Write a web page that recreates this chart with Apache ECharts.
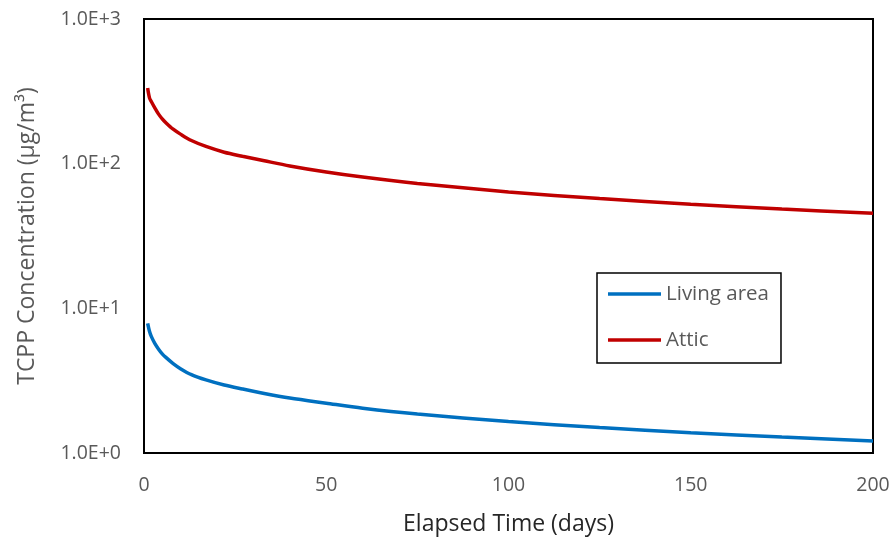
<!DOCTYPE html>
<html>
<head>
<meta charset="utf-8">
<script src="https://cdn.jsdelivr.net/npm/echarts@6/dist/echarts.min.js"></script>
<style>
  html, body { margin: 0; padding: 0; background: #fff; }
  #main { width: 895px; height: 544px; }
</style>
</head>
<body>
<div id="main"></div>
<script>
// elapsed time (days) and concentrations
const days = [1, 1.5, 2, 3, 4, 5, 6, 8, 10, 13, 17, 22, 27, 33, 40, 50, 60, 75, 100, 125, 150, 175, 200]
const livingArea = [7.87, 6.95, 6.4, 5.7, 5.22, 4.85, 4.58, 4.15, 3.83, 3.48, 3.2, 2.95, 2.77, 2.58, 2.4, 2.21, 2.04, 1.86, 1.65, 1.5, 1.38, 1.29, 1.21]
const attic = [333, 285, 269, 242, 220, 204, 192, 173, 160, 144.5, 131.5, 120, 112.5, 104.7, 96.5, 87.6, 80.8, 73, 63.8, 57.4, 52.5, 48.6, 45.4]
const xTicks = [0, 50, 100, 150, 200]
const yTickLabels = ['1.0E+0', '1.0E+1', '1.0E+2', '1.0E+3']

const FONT = 'Open Sans'
const GREY = '#595959'

const pairs = (xs, ys) => xs.map((x, i) => [x, ys[i]])

const chart = echarts.init(document.getElementById('main'), null, { renderer: 'canvas' })

const option = {
  backgroundColor: '#fff',
  animation: false,
  grid: {
    left: 144, right: 22, top: 19, bottom: 91,
    show: true,
    borderColor: '#000',
    borderWidth: 2
  },
  legend: {
    orient: 'vertical',
    left: 597,
    top: 273,
    padding: [10, 12, 12, 11],
    itemGap: 24,
    itemWidth: 53,
    itemHeight: 3.5,
    icon: 'rect',
    borderColor: '#000',
    borderWidth: 1.5,
    textStyle: { fontFamily: FONT, fontSize: 20.5, color: GREY, lineHeight: 22 },
    data: ['Living area', 'Attic']
  },
  xAxis: {
    type: 'value',
    min: xTicks[0],
    max: xTicks[xTicks.length - 1],
    interval: xTicks[1] - xTicks[0],
    name: 'Elapsed Time (days)',
    nameLocation: 'middle',
    nameGap: 60,
    nameTextStyle: { fontFamily: FONT, fontSize: 23, color: '#262626' },
    axisLine: { show: true, lineStyle: { color: '#000', width: 2 } },
    axisTick: { show: false },
    splitLine: { show: false },
    axisLabel: { fontFamily: FONT, fontSize: 19.5, color: GREY, margin: 22 }
  },
  yAxis: {
    type: 'log',
    logBase: 10,
    min: 1,
    max: 1000,
    name: 'TCPP Concentration (µg/m³)',
    nameLocation: 'middle',
    nameGap: 105,
    nameTextStyle: { fontFamily: FONT, fontSize: 23, color: GREY },
    axisLine: { show: true, lineStyle: { color: '#000', width: 2 } },
    axisTick: { show: false },
    splitLine: { show: false },
    axisLabel: {
      fontFamily: FONT, fontSize: 19.5, color: GREY, margin: 23,
      formatter: v => yTickLabels[Math.round(Math.log10(v))]
    }
  },
  series: [
    {
      name: 'Living area',
      type: 'line',
      smooth: 0.3,
      showSymbol: false,
      color: '#0070C0',
      lineStyle: { width: 3.5, color: '#0070C0' },
      data: pairs(days, livingArea)
    },
    {
      name: 'Attic',
      type: 'line',
      smooth: 0.3,
      showSymbol: false,
      color: '#C00000',
      lineStyle: { width: 3.5, color: '#C00000' },
      data: pairs(days, attic)
    }
  ]
}

chart.setOption(option)
</script>
</body>
</html>
